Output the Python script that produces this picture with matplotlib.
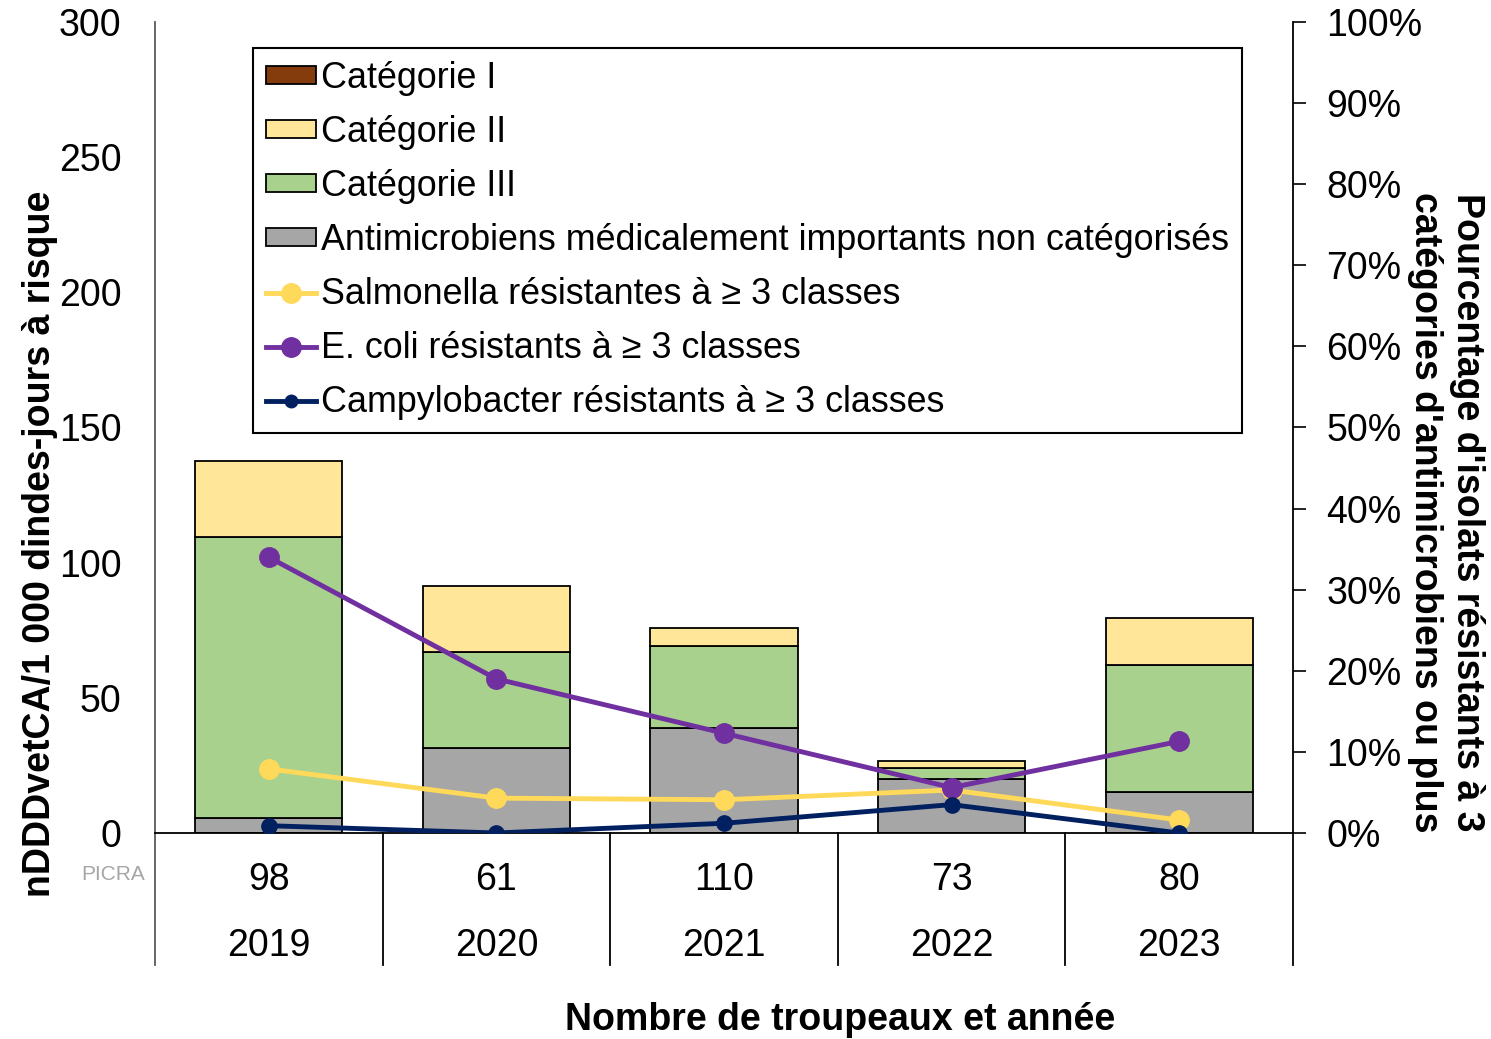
import matplotlib
matplotlib.use("Agg")
import matplotlib.pyplot as plt
from matplotlib.lines import Line2D
from matplotlib.patches import Patch
import matplotlib.transforms as mtransforms

plt.rcParams['font.family'] = ['Liberation Sans', 'DejaVu Sans']

years = ["2019", "2020", "2021", "2022", "2023"]
flocks = ["98", "61", "110", "73", "80"]

cat1 = [0, 0, 0, 0, 0]
cat2 = [28.3, 24.5, 7.0, 2.7, 17.4]
cat3 = [104.0, 35.5, 30.0, 4.0, 47.0]
noncat = [5.4, 31.5, 39.0, 20.0, 15.0]

salmonella = [7.9, 4.3, 4.1, 5.3, 1.6]
ecoli = [34.0, 19.0, 12.3, 5.6, 11.3]
campylo = [0.9, 0.0, 1.2, 3.5, 0.0]

left_ticks = [0, 50, 100, 150, 200, 250, 300]
right_ticks = [0, 10, 20, 30, 40, 50, 60, 70, 80, 90, 100]

c_cat1 = "#843C0C"
c_cat2 = "#FFE699"
c_cat3 = "#A9D18E"
c_gray = "#A6A6A6"
c_sal = "#FFD959"
c_eco = "#7030A0"
c_cam = "#002060"

W, H = 1491, 1039
fig = plt.figure(figsize=(W / 100, H / 100), dpi=100)
ax = fig.add_axes([155 / W, 1 - 833 / H, (1293 - 155) / W, (833 - 22) / H])
ax2 = ax.twinx()

x = list(range(len(years)))
bw = 0.646
b0 = [0] * 5
b1 = [noncat[i] for i in range(5)]
b2 = [noncat[i] + cat3[i] for i in range(5)]
b3 = [noncat[i] + cat3[i] + cat2[i] for i in range(5)]
ax.bar(x, noncat, bw, bottom=b0, color=c_gray, edgecolor="black", linewidth=1.3, zorder=2)
ax.bar(x, cat3, bw, bottom=b1, color=c_cat3, edgecolor="black", linewidth=1.3, zorder=2)
ax.bar(x, cat2, bw, bottom=b2, color=c_cat2, edgecolor="black", linewidth=1.3, zorder=2)
ax.bar(x, cat1, bw, bottom=b3, color=c_cat1, edgecolor="black", linewidth=0, zorder=2)

FS = 27
ax.set_xlim(-0.5, 4.5)
ax.set_ylim(0, 300)
ax.set_yticks(left_ticks)
ax.set_yticklabels([str(t) for t in left_ticks])
ax.tick_params(axis='y', length=0, pad=24, labelsize=FS)
ax.set_xticks([])
for s in ["top", "right"]:
    ax.spines[s].set_visible(False)
ax.spines["left"].set_color("#595959")
ax.spines["left"].set_linewidth(1.3)
ax.spines["bottom"].set_color("black")
ax.spines["bottom"].set_linewidth(1.3)

LW = 3.5
ax2.plot(x, salmonella, color=c_sal, lw=LW, marker="o", ms=14, zorder=3)
ax2.plot(x, ecoli, color=c_eco, lw=LW, marker="o", ms=14, zorder=4)
ax2.plot(x, campylo, color=c_cam, lw=LW, marker="o", ms=11, zorder=5)
ax2.set_ylim(0, 100)
ax2.set_yticks(right_ticks)
ax2.set_yticklabels([f"{t}%" for t in right_ticks])
ax2.tick_params(axis='y', length=9, width=1.2, pad=15, labelsize=FS, direction='out')
for s in ["top", "left", "bottom"]:
    ax2.spines[s].set_visible(False)
ax2.spines["right"].set_color("black")
ax2.spines["right"].set_linewidth(1.3)

# category labels and separators
trans = mtransforms.blended_transform_factory(ax.transData, ax.transAxes)
for i in range(5):
    ax.text(x[i], -0.058, flocks[i], transform=trans, ha="center", va="center", fontsize=FS)
    ax.text(x[i], -0.1395, years[i], transform=trans, ha="center", va="center", fontsize=FS)
for b in [-0.5, 0.5, 1.5, 2.5, 3.5, 4.5]:
    col = "#595959" if b == -0.5 else "black"
    ax.add_line(Line2D([b, b], [0, -0.1628], transform=trans, color=col, lw=1.3, clip_on=False))

fig.text(113 / W, 1 - 874 / H, "PICRA", ha="center", va="center", fontsize=15, color="#A6A6A6")

fig.text(40 / W, 1 - 544 / H, "nDDDvetCA/1 000 dindes-jours à risque", rotation=90,
         ha="center", va="center", fontsize=FS, fontweight="bold")
fig.text(1446 / W, 1 - 512 / H, "Pourcentage d'isolats résistants à 3\ncatégories d'antimicrobiens ou plus",
         rotation=270, ha="center", va="center", fontsize=FS, fontweight="bold", linespacing=1.2,
         multialignment="center")
fig.text(840 / W, 1 - 1020 / H, "Nombre de troupeaux et année", ha="center", va="center",
         fontsize=FS, fontweight="bold")

handles = [
    Patch(facecolor=c_cat1, edgecolor="black", linewidth=1.3),
    Patch(facecolor=c_cat2, edgecolor="black", linewidth=1.3),
    Patch(facecolor=c_cat3, edgecolor="black", linewidth=1.3),
    Patch(facecolor=c_gray, edgecolor="black", linewidth=1.3),
    Line2D([], [], color=c_sal, lw=LW, marker="o", ms=14),
    Line2D([], [], color=c_eco, lw=LW, marker="o", ms=14),
    Line2D([], [], color=c_cam, lw=LW, marker="o", ms=9),
]
labels = ["Catégorie I", "Catégorie II", "Catégorie III",
          "Antimicrobiens médicalement importants non catégorisés",
          "Salmonella résistantes à ≥ 3 classes",
          "E. coli résistants à ≥ 3 classes",
          "Campylobacter résistants à ≥ 3 classes"]
leg = ax2.legend(handles, labels, loc="upper left", bbox_to_anchor=(253 / W, 1 - 48 / H),
                 bbox_transform=fig.transFigure, fontsize=25.8, frameon=True, fancybox=False,
                 framealpha=1, edgecolor="black", handlelength=1.39, handleheight=0.42,
                 handletextpad=0.14, labelspacing=0.53, borderpad=0.36, borderaxespad=0)
leg.get_frame().set_linewidth(1.5)
leg.set_zorder(10)

fig.savefig("out.png", dpi=100)
